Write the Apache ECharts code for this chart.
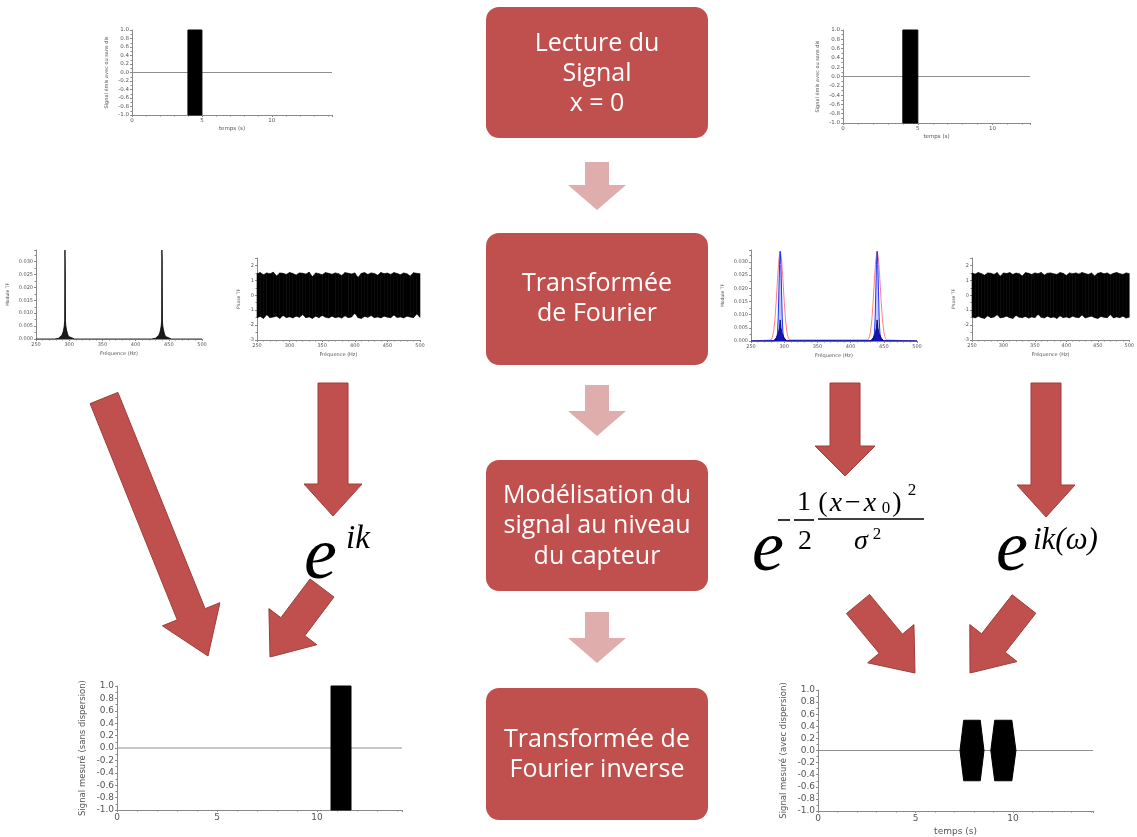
<!DOCTYPE html>
<html>
<head>
<meta charset="utf-8">
<script src="https://cdn.jsdelivr.net/npm/echarts@6/dist/echarts.min.js"></script>
<style>
html, body { margin: 0; padding: 0; background: #ffffff; }
#chart { width: 1137px; height: 837px; }
</style>
</head>
<body>
<div id="chart"></div>
<script>
// ---------- signals in the time domain ----------
const emittedPulse = [4.0, 5.0];            // start / end of the emitted burst (s)
const measuredPulse = [10.7, 11.7];         // burst received without dispersion (s)
const pulseLevels = [-1, 1];                // burst fills the full amplitude range
const packetA = [7.28, 7.47, 8.32, 8.51];   // dispersed packet 1: start, top start, top end, end (s)
const packetB = [8.86, 9.06, 9.94, 10.15];  // dispersed packet 2
const packetLevel = 0.5;

// ---------- Fourier magnitude (two notes) ----------
const peakFreqLow  = [250, 278, 284, 287, 289, 290.5, 291.5, 292.5, 293.2, 293.6, 294, 294.4, 295, 296, 297.5, 299, 302, 308];
const peakMagLow   = [0, 0, 0.0003, 0.0008, 0.0015, 0.0025, 0.0035, 0.005, 0.007, 0.0345, 0.028, 0.007, 0.005, 0.0035, 0.002, 0.001, 0.0004, 0];
const peakFreqHigh = [424, 430, 433, 435, 436.5, 437.5, 438.5, 439.2, 439.6, 440, 440.4, 441, 442, 443.5, 445, 448, 454, 500];
const peakMagHigh  = [0, 0.0003, 0.0008, 0.0015, 0.0025, 0.0035, 0.005, 0.007, 0.0345, 0.031, 0.007, 0.005, 0.0035, 0.002, 0.001, 0.0004, 0, 0];

// filtered spectrum (right): wide gaussian window and narrow filtered peak
const windowFreq = [250, 280, 282, 284, 286, 288, 290, 292, 294, 296, 298, 300, 302, 304, 306, 308,
                    426, 428, 430, 432, 434, 436, 438, 440, 442, 444, 446, 448, 450, 452, 454, 500];
const windowMag  = [0, 0.0004, 0.0013, 0.0035, 0.0080, 0.0151, 0.0237, 0.0311, 0.0340, 0.0311, 0.0237, 0.0151, 0.0080, 0.0035, 0.0013, 0.0004,
                    0.0004, 0.0013, 0.0035, 0.0080, 0.0151, 0.0237, 0.0311, 0.0340, 0.0311, 0.0237, 0.0151, 0.0080, 0.0035, 0.0013, 0.0004, 0];
const filteredFreq = [250, 288, 289, 290, 291, 292, 293, 294, 295, 296, 297, 298, 299, 300,
                      434, 435, 436, 437, 438, 439, 440, 441, 442, 443, 444, 445, 446, 500];
const filteredMag  = [0, 0.0002, 0.001, 0.0035, 0.009, 0.019, 0.029, 0.034, 0.029, 0.019, 0.009, 0.0035, 0.001, 0.0002,
                      0.0002, 0.001, 0.0035, 0.009, 0.019, 0.029, 0.034, 0.029, 0.019, 0.009, 0.0035, 0.001, 0.0002, 0];
const baseFreq = [250, 284, 288, 291, 293, 294, 295, 297, 300, 304, 430, 434, 437, 439, 440, 441, 443, 446, 450, 500];
const baseMag  = [0, 0, 0.0012, 0.0028, 0.005, 0.008, 0.005, 0.0028, 0.0012, 0, 0, 0.0012, 0.0028, 0.005, 0.008, 0.005, 0.0028, 0.0012, 0, 0];

// ---------- Fourier phase: envelope of the noisy phase ----------
const phaseFreq = [250, 255, 260, 265, 270, 275, 280, 285, 290, 295, 300, 305, 310, 315, 320, 325, 330,
                   335, 340, 345, 350, 355, 360, 365, 370, 375, 380, 385, 390, 395, 400, 405, 410, 415,
                   420, 425, 430, 435, 440, 445, 450, 455, 460, 465, 470, 475, 480, 485, 490, 495, 500];
const phaseUpperL = [1.45, 1.52, 1.38, 1.5, 1.44, 1.55, 1.3, 1.5, 1.47, 1.4, 1.53, 1.46, 1.36, 1.5, 1.48, 1.42, 1.55,
                     1.25, 1.5, 1.45, 1.38, 1.52, 1.47, 1.41, 1.5, 1.45, 1.33, 1.52, 1.48, 1.43, 1.5, 1.2, 1.47, 1.52,
                     1.4, 1.5, 1.46, 1.35, 1.53, 1.45, 1.49, 1.4, 1.52, 1.46, 1.38, 1.5, 1.44, 1.3, 1.51, 1.47, 1.45];
const phaseLowerL = [-1.5, -1.42, -1.55, -1.3, -1.5, -1.46, -1.4, -1.55, -1.35, -1.5, -1.44, -1.52, -1.4, -1.48, -1.3, -1.5, -1.45,
                     -1.55, -1.4, -1.5, -1.35, -1.47, -1.52, -1.4, -1.5, -1.45, -1.53, -1.38, -1.5, -1.46, -1.2, -1.5, -1.55, -1.42,
                     -1.48, -1.36, -1.5, -1.45, -1.52, -1.4, -1.47, -1.5, -1.33, -1.49, -1.45, -1.52, -1.4, -1.46, -1.5, -1.25, -1.48];
const phaseUpperR = [1.5, 1.42, 1.53, 1.45, 1.35, 1.5, 1.48, 1.4, 1.52, 1.28, 1.5, 1.46, 1.52, 1.4, 1.49, 1.45, 1.3,
                     1.52, 1.47, 1.4, 1.5, 1.45, 1.53, 1.36, 1.48, 1.5, 1.44, 1.4, 1.52, 1.47, 1.33, 1.5, 1.45, 1.5,
                     1.42, 1.53, 1.46, 1.4, 1.5, 1.3, 1.48, 1.52, 1.44, 1.5, 1.38, 1.47, 1.53, 1.45, 1.4, 1.5, 1.46];
const phaseLowerR = [-1.45, -1.52, -1.4, -1.5, -1.55, -1.38, -1.5, -1.46, -1.3, -1.52, -1.48, -1.4, -1.5, -1.55, -1.35, -1.47, -1.5,
                     -1.42, -1.53, -1.45, -1.5, -1.28, -1.48, -1.52, -1.4, -1.5, -1.46, -1.55, -1.38, -1.5, -1.45, -1.52, -1.4, -1.48,
                     -1.5, -1.33, -1.52, -1.46, -1.4, -1.5, -1.55, -1.42, -1.48, -1.5, -1.3, -1.52, -1.45, -1.5, -1.4, -1.53, -1.47];

// ---------- tick labels / titles ----------
const timeTitle = 'temps (s)';
const freqTitle = 'Fréquence (Hz)';
const moduleTitle = 'Module TF';
const phaseTitle = 'Phase TF';
const emittedTitle = 'Signal émis avec ou sans dis';
const measuredPlainTitle = 'Signal mesuré (sans dispersion)';
const measuredDispTitle = 'Signal mesuré (avec dispersion)';

// ---------- flow chart text ----------
const stepLines = [
  ['Lecture du', 'Signal', 'x = 0'],
  ['Transformée', 'de Fourier'],
  ['Modélisation du', 'signal au niveau', 'du capteur'],
  ['Transformée de', 'Fourier inverse']
];

const zip = (xs, ys) => xs.map((x, i) => [x, ys[i]]);

const AXIS_COLOR = '#8a8a8a';
const LABEL_COLOR = '#555';
const FONT = 'DejaVu Sans';

function fmt1(v) { return Math.abs(v) < 1e-9 ? '0.0' : v.toFixed(1); }
function fmt3(v) { return Math.abs(v) < 1e-9 ? '0.000' : v.toFixed(3); }

// true when v lies on the tick grid that starts at min
function onTick(v, min, interval) {
  const k = (v - min) / interval;
  return Math.abs(k - Math.round(k)) < 1e-6;
}

function xAxisDef(grid, min, max, interval, size, name, nameGap) {
  return {
    type: 'value', gridIndex: grid, min: min, max: max, interval: interval,
    axisLine: { show: true, onZero: false, lineStyle: { color: AXIS_COLOR, width: 1 } },
    axisTick: { show: true, length: 2, lineStyle: { color: AXIS_COLOR } },
    minorTick: { show: true, splitNumber: 5, length: 1.5, lineStyle: { color: AXIS_COLOR } },
    splitLine: { show: false },
    axisLabel: { fontSize: size, color: LABEL_COLOR, fontFamily: FONT, margin: 3,
                 showMaxLabel: onTick(max, min, interval), showMinLabel: true,
                 formatter: function (v) { return onTick(v, min, interval) ? String(v) : ''; } },
    name: name, nameLocation: 'middle', nameGap: nameGap,
    nameTextStyle: { fontSize: size, color: LABEL_COLOR, fontFamily: FONT }
  };
}
function yAxisDef(grid, min, max, interval, size, name, nameGap, formatter, minorSplit) {
  return {
    type: 'value', gridIndex: grid, min: min, max: max, interval: interval,
    axisLine: { show: true, onZero: false, lineStyle: { color: AXIS_COLOR, width: 1 } },
    axisTick: { show: true, length: 2, lineStyle: { color: AXIS_COLOR } },
    minorTick: { show: true, splitNumber: minorSplit, length: 1.5, lineStyle: { color: AXIS_COLOR } },
    splitLine: { show: false },
    axisLabel: { fontSize: size, color: LABEL_COLOR, fontFamily: FONT, margin: 3,
                 showMaxLabel: onTick(max, min, interval), showMinLabel: true,
                 formatter: function (v) {
                   if (!onTick(v, min, interval)) return '';
                   return formatter ? formatter(v) : String(v);
                 } },
    name: name, nameLocation: 'middle', nameGap: nameGap, nameRotate: 90,
    nameTextStyle: { fontSize: size - 0.5, color: LABEL_COLOR, fontFamily: FONT }
  };
}

// Zero reference line across a time plot
function zeroLine(idx, xmax) {
  return {
    type: 'line', xAxisIndex: idx, yAxisIndex: idx, z: 1, silent: true,
    data: [[0, 0], [xmax, 0]], symbol: 'none',
    lineStyle: { color: '#8f8f8f', width: 1.2 }
  };
}

// Black burst filling [start, end] x [low, high]
function burst(idx, span) {
  return {
    type: 'custom', xAxisIndex: idx, yAxisIndex: idx, z: 3, silent: true,
    data: [[span[0], span[1], pulseLevels[0], pulseLevels[1]]],
    encode: { x: [0, 1], y: [2, 3] },
    renderItem: function (params, api) {
      const a = api.coord([api.value(0), api.value(3)]);
      const b = api.coord([api.value(1), api.value(2)]);
      return { type: 'rect', shape: { x: a[0], y: a[1], width: b[0] - a[0], height: b[1] - a[1] },
               style: { fill: '#000', stroke: '#000', lineWidth: 1 } };
    }
  };
}

// Dispersed wave packets drawn as their filled envelopes
function packets(idx) {
  return {
    type: 'custom', xAxisIndex: idx, yAxisIndex: idx, z: 3, silent: true,
    data: [packetA, packetB],
    encode: { x: [0, 1, 2, 3] },
    renderItem: function (params, api) {
      const t = [api.value(0), api.value(1), api.value(2), api.value(3)];
      const pts = [
        api.coord([t[0], 0]), api.coord([t[1], packetLevel]), api.coord([t[2], packetLevel]),
        api.coord([t[3], 0]), api.coord([t[2], -packetLevel]), api.coord([t[1], -packetLevel])
      ];
      return { type: 'polygon', shape: { points: pts }, style: { fill: '#000', stroke: '#000', lineWidth: 1 } };
    }
  };
}

// Filled band between the upper and lower phase envelopes
function phaseBand(idx, upper, lower) {
  return {
    type: 'custom', xAxisIndex: idx, yAxisIndex: idx, z: 3, silent: true,
    data: phaseFreq.map((f, i) => [f, upper[i], lower[i]]),
    encode: { x: 0, y: [1, 2] },
    renderItem: function (params, api) {
      const i = params.dataIndex;
      if (i >= phaseFreq.length - 1) return null;
      const pts = [
        api.coord([phaseFreq[i], upper[i]]), api.coord([phaseFreq[i + 1], upper[i + 1]]),
        api.coord([phaseFreq[i + 1], lower[i + 1]]), api.coord([phaseFreq[i], lower[i]])
      ];
      return { type: 'polygon', shape: { points: pts }, style: { fill: '#000', stroke: '#000', lineWidth: 0.6 } };
    }
  };
}

const grids = [
  { left: 132, top: 30, width: 200, height: 85 },   // 0 emitted (left)
  { left: 843, top: 30, width: 187, height: 93 },   // 1 emitted (right)
  { left: 36, top: 250, width: 166, height: 89 },   // 2 magnitude (left)
  { left: 257, top: 258, width: 163, height: 82 },  // 3 phase (left)
  { left: 751, top: 250, width: 166, height: 91 },  // 4 magnitude filtered
  { left: 972, top: 258, width: 163, height: 82 },  // 5 phase (right)
  { left: 117, top: 686, width: 285, height: 124 }, // 6 measured, no dispersion
  { left: 818, top: 690, width: 275, height: 121 }  // 7 measured, with dispersion
];

const xAxes = [
  xAxisDef(0, 0, 14.3, 5, 5.5, timeTitle, 11),
  xAxisDef(1, 0, 12.5, 5, 5.5, timeTitle, 11),
  xAxisDef(2, 250, 500, 50, 5, freqTitle, 12),
  xAxisDef(3, 250, 500, 50, 5, freqTitle, 12),
  xAxisDef(4, 250, 500, 50, 5, freqTitle, 12),
  xAxisDef(5, 250, 500, 50, 5, freqTitle, 12),
  xAxisDef(6, 0, 14.25, 5, 9, '', 20),
  xAxisDef(7, 0, 14.1, 5, 9, timeTitle, 16)
];
const yAxes = [
  yAxisDef(0, -1, 1, 0.2, 5.5, emittedTitle, 23, fmt1, 2),
  yAxisDef(1, -1, 1, 0.2, 5.5, emittedTitle, 23, fmt1, 2),
  yAxisDef(2, 0, 0.0345, 0.005, 5, moduleTitle, 26, fmt3, 2),
  yAxisDef(3, -3, 2.5, 1, 5, phaseTitle, 16, null, 2),
  yAxisDef(4, 0, 0.0345, 0.005, 5, moduleTitle, 26, fmt3, 2),
  yAxisDef(5, -3, 2.5, 1, 5, phaseTitle, 16, null, 2),
  yAxisDef(6, -1, 1, 0.2, 9, measuredPlainTitle, 30, fmt1, 2),
  yAxisDef(7, -1, 1, 0.2, 9, measuredDispTitle, 30, fmt1, 2)
];

const series = [
  zeroLine(0, 14.3), burst(0, emittedPulse),
  zeroLine(1, 12.5), burst(1, emittedPulse),
  {
    type: 'line', xAxisIndex: 2, yAxisIndex: 2, silent: true, symbol: 'none',
    data: zip(peakFreqLow, peakMagLow).concat(zip(peakFreqHigh, peakMagHigh)),
    lineStyle: { color: '#000', width: 0.8 }, areaStyle: { color: '#000', opacity: 0.9 }
  },
  phaseBand(3, phaseUpperL, phaseLowerL),
  {
    type: 'line', xAxisIndex: 4, yAxisIndex: 4, silent: true, symbol: 'none', z: 2,
    data: zip(windowFreq, windowMag),
    lineStyle: { color: '#ff8080', width: 1 }
  },
  {
    type: 'line', xAxisIndex: 4, yAxisIndex: 4, silent: true, symbol: 'none', z: 3,
    data: zip(filteredFreq, filteredMag),
    lineStyle: { color: '#2030ff', width: 1 }, areaStyle: { color: 'rgba(40,60,255,0.38)' }
  },
  {
    type: 'line', xAxisIndex: 4, yAxisIndex: 4, silent: true, symbol: 'none', z: 4,
    data: zip(baseFreq, baseMag),
    lineStyle: { color: '#101070', width: 1 }, areaStyle: { color: '#0000b0', opacity: 0.9 }
  },
  phaseBand(5, phaseUpperR, phaseLowerR),
  zeroLine(6, 14.25), burst(6, measuredPulse),
  zeroLine(7, 14.1), packets(7)
];

// ---------- flow chart graphics ----------
const BOX_RED = '#c0504d';
const ARROW_EDGE = '#9e3d3a';
const LIGHT_ARROW = '#dfadac';

function arrowPoints(tail, tip, shaftW, headW, headL) {
  const dx = tip[0] - tail[0], dy = tip[1] - tail[1];
  const len = Math.hypot(dx, dy);
  const ux = dx / len, uy = dy / len, nx = -uy, ny = ux;
  const bx = tip[0] - ux * headL, by = tip[1] - uy * headL;
  return [
    [tail[0] + nx * shaftW / 2, tail[1] + ny * shaftW / 2],
    [bx + nx * shaftW / 2, by + ny * shaftW / 2],
    [bx + nx * headW / 2, by + ny * headW / 2],
    [tip[0], tip[1]],
    [bx - nx * headW / 2, by - ny * headW / 2],
    [bx - nx * shaftW / 2, by - ny * shaftW / 2],
    [tail[0] - nx * shaftW / 2, tail[1] - ny * shaftW / 2]
  ];
}

const graphics = [];

const boxes = [[7, 138], [233, 365], [460, 591], [688, 820]];
const lineY = [[44, 74, 104], [284, 314], [496, 526, 557], [740, 770]];
boxes.forEach(function (b, i) {
  graphics.push({ type: 'rect', shape: { x: 486, y: b[0], width: 222, height: b[1] - b[0], r: 13 },
                  style: { fill: BOX_RED }, z: 10 });
  stepLines[i].forEach(function (t, j) {
    graphics.push({ type: 'text', x: 597, y: lineY[i][j], z: 11,
      style: { text: t, fill: '#ffffff', font: '25px "Open Sans"', align: 'center', verticalAlign: 'middle' } });
  });
});

[[162, 210], [385, 436], [612, 663]].forEach(function (a) {
  graphics.push({ type: 'polygon', z: 10, shape: { points: arrowPoints([597, a[0]], [597, a[1]], 24, 58, 25) },
                  style: { fill: LIGHT_ARROW } });
});

const darkArrows = [
  [[333, 383], [333, 516], 30, 58, 32],
  [[845, 383], [845, 476], 30, 60, 30],
  [[1046, 383], [1046, 517], 30, 58, 32],
  [[104, 398], [208, 656], 30, 62, 45],
  [[322, 588], [270, 657], 30, 60, 38],
  [[858, 604], [915, 673], 30, 60, 38],
  [[1024, 604], [970, 673], 30, 60, 38]
];
darkArrows.forEach(function (a) {
  graphics.push({ type: 'polygon', z: 10, shape: { points: arrowPoints(a[0], a[1], a[2], a[3], a[4]) },
                  style: { fill: BOX_RED, stroke: ARROW_EDGE, lineWidth: 1 } });
});

// formulas
function mathText(text, x, y, size, italic, align) {
  graphics.push({ type: 'text', x: x, y: y, z: 12,
    style: { text: text, fill: '#000', font: (italic ? 'italic ' : '') + size + 'px "Liberation Serif"',
             align: align || 'left', verticalAlign: 'middle' } });
}
function mathLine(x1, x2, y, w) {
  graphics.push({ type: 'line', z: 12, shape: { x1: x1, y1: y, x2: x2, y2: y }, style: { stroke: '#000', lineWidth: w } });
}

// e^{ik}
mathText('e', 304, 559, 74, true);
mathText('ik', 346, 539, 33, true);

// e^{-1/2 (x-x0)^2 / sigma^2}
mathText('e', 752, 551, 72, true);
mathLine(778, 790, 520, 1.6);
mathLine(794, 814, 520, 1.6);
mathText('1', 804, 503, 28, false, 'center');
mathText('2', 805, 542, 28, false, 'center');
mathText('(', 823, 504, 28, false, 'center');
mathText('x', 836, 504, 28, true, 'center');
mathText('−', 853, 504, 28, false, 'center');
mathText('x', 870, 504, 28, true, 'center');
mathText('0', 886, 509, 17, false, 'center');
mathText(')', 897, 504, 28, false, 'center');
mathText('2', 912, 491, 17, false, 'center');
mathLine(818, 924, 519, 1.6);
mathText('σ', 861, 542, 28, true, 'center');
mathText('2', 877, 535, 17, false, 'center');

// e^{ik(omega)}
mathText('e', 996, 551, 72, true);
mathText('ik(ω)', 1033, 541, 31, true);

const chart = echarts.init(document.getElementById('chart'), null, { renderer: 'canvas' });
chart.setOption({
  backgroundColor: '#ffffff',
  animation: false,
  grid: grids,
  xAxis: xAxes,
  yAxis: yAxes,
  series: series,
  graphic: graphics
});
</script>
</body>
</html>
